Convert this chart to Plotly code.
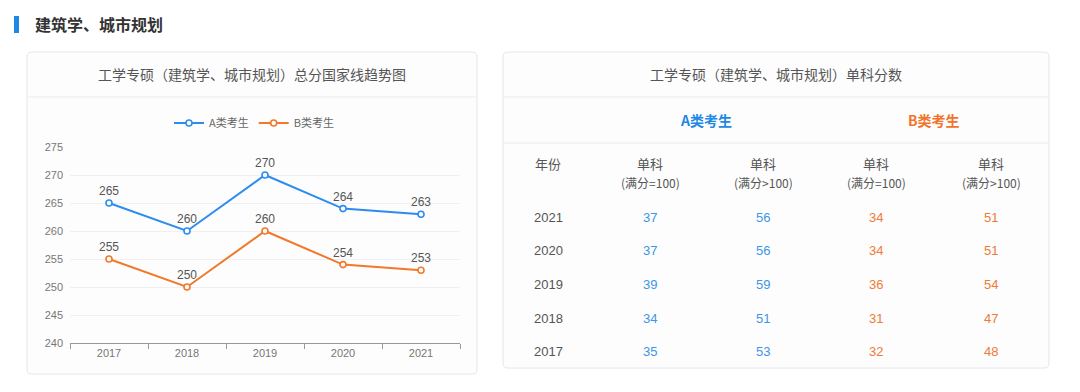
import plotly.graph_objects as go

# ---------------- data ----------------
years = ["2017", "2018", "2019", "2020", "2021"]
total_a = [265, 260, 270, 264, 263]
total_b = [255, 250, 260, 254, 253]
y_ticks = [240, 245, 250, 255, 260, 265, 270, 275]

table_years = ["2021", "2020", "2019", "2018", "2017"]
a_eq100 = [37, 37, 39, 34, 35]
a_gt100 = [56, 56, 59, 51, 53]
b_eq100 = [34, 34, 36, 31, 32]
b_gt100 = [51, 51, 54, 47, 48]
col_headers = ["单科", "单科", "单科", "单科"]
col_subheaders = ["(满分=100)", "(满分>100)", "(满分=100)", "(满分>100)"]

page_title = "建筑学、城市规划"
chart_title = "工学专硕（建筑学、城市规划）总分国家线趋势图"
table_title = "工学专硕（建筑学、城市规划）单科分数"
series_names = ["A类考生", "B类考生"]

# ---------------- style ----------------
W, H = 1080, 392
BLUE = "#2D8CF0"
ORANGE = "#F2782B"
BLUE_TXT = "#3D95E8"
ORANGE_TXT = "#F07A38"
CJK = "Noto Sans CJK SC"
LAT = "Liberation Sans, Noto Sans CJK SC, sans-serif"


def px(x):
    return x / W


def py(y):
    return 1 - y / H


def rounded_rect(x0, y0, x1, y1, r):
    pts = [
        f"M {px(x0 + r)},{py(y0)}",
        f"L {px(x1 - r)},{py(y0)}",
        f"Q {px(x1)},{py(y0)} {px(x1)},{py(y0 + r)}",
        f"L {px(x1)},{py(y1 - r)}",
        f"Q {px(x1)},{py(y1)} {px(x1 - r)},{py(y1)}",
        f"L {px(x0 + r)},{py(y1)}",
        f"Q {px(x0)},{py(y1)} {px(x0)},{py(y1 - r)}",
        f"L {px(x0)},{py(y0 + r)}",
        f"Q {px(x0)},{py(y0)} {px(x0 + r)},{py(y0)}",
        "Z",
    ]
    return " ".join(pts)


fig = go.Figure()

for name, vals, col in [(series_names[0], total_a, BLUE), (series_names[1], total_b, ORANGE)]:
    fig.add_trace(go.Scatter(
        x=years, y=vals, name=name,
        mode="lines+markers+text",
        text=[str(v) for v in vals],
        textposition="top center",
        textfont=dict(family=LAT, size=12, color="#555"),
        line=dict(color=col, width=2),
        marker=dict(symbol="circle", size=6, color="white", line=dict(color=col, width=1.6)),
        cliponaxis=False,
        hoverinfo="skip",
    ))

shapes = []
# header accent bar
shapes.append(dict(type="rect", xref="paper", yref="paper",
                   x0=px(14), x1=px(19), y0=py(33), y1=py(16),
                   fillcolor="#1E88E5", line=dict(width=0), layer="below"))
# cards
for (x0, y0, x1, y1) in [(27, 52, 477, 374), (503, 52, 1049, 368)]:
    shapes.append(dict(type="path", xref="paper", yref="paper",
                       path=rounded_rect(x0, y0, x1, y1, 5),
                       fillcolor="#FDFDFD", line=dict(color="#E6E6E6", width=1), layer="below"))
# dividers
shapes.append(dict(type="line", xref="paper", yref="paper", x0=px(28), x1=px(476), y0=py(97), y1=py(97),
                   line=dict(color="#EBEBEB", width=1), layer="below"))
shapes.append(dict(type="line", xref="paper", yref="paper", x0=px(504), x1=px(1048), y0=py(97), y1=py(97),
                   line=dict(color="#EBEBEB", width=1), layer="below"))
shapes.append(dict(type="line", xref="paper", yref="paper", x0=px(504), x1=px(1048), y0=py(143), y1=py(143),
                   line=dict(color="#EBEBEB", width=1), layer="below"))

annotations = []


def add_text(x, y, text, size=13, color="#555", family=CJK, xanchor="center", bold=False):
    annotations.append(dict(
        xref="paper", yref="paper", x=px(x), y=py(y), text=(f"<b>{text}</b>" if bold else text),
        showarrow=False, xanchor=xanchor, yanchor="middle",
        font=dict(family=family, size=size, color=color)))


add_text(33, 24, page_title, size=16, color="#333", xanchor="left", bold=True)
add_text(252, 74, chart_title, size=14, color="#555")
add_text(776, 74, table_title, size=14, color="#555")
add_text(706, 120, series_names[0], size=14, color="#1E88E5", bold=True)
add_text(934, 120, series_names[1], size=14, color="#F2732B", bold=True)

col_x = [548, 650, 763, 876, 991]
row_y = [217, 251, 284, 318, 351]
add_text(col_x[0], 163, "年份", size=13, color="#555")
for i in range(4):
    add_text(col_x[i + 1], 163, col_headers[i], size=13, color="#555")
    add_text(col_x[i + 1], 182, col_subheaders[i], size=12, color="#555")

for r, yr in enumerate(table_years):
    y = row_y[r]
    add_text(col_x[0], y, yr, size=13, color="#555", family=LAT)
    add_text(col_x[1], y, str(a_eq100[r]), size=13, color=BLUE_TXT, family=LAT)
    add_text(col_x[2], y, str(a_gt100[r]), size=13, color=BLUE_TXT, family=LAT)
    add_text(col_x[3], y, str(b_eq100[r]), size=13, color=ORANGE_TXT, family=LAT)
    add_text(col_x[4], y, str(b_gt100[r]), size=13, color=ORANGE_TXT, family=LAT)

fig.update_layout(
    width=W, height=H,
    margin=dict(l=0, r=0, t=0, b=0, pad=0, autoexpand=False),
    paper_bgcolor="white",
    plot_bgcolor="rgba(0,0,0,0)",
    shapes=shapes,
    annotations=annotations,
    showlegend=True,
    legend=dict(orientation="h", x=px(254), xanchor="center", y=py(123), yanchor="middle",
                font=dict(family=CJK, size=11, color="#666"), bgcolor="rgba(0,0,0,0)",
                itemwidth=30, traceorder="normal"),
    xaxis=dict(domain=[px(70), px(460)], type="category", range=[-0.5, 4.5],
               showgrid=False, showline=True, linecolor="#999", linewidth=1,
               ticks="outside", tickson="boundaries", ticklen=5, tickcolor="#999",
               tickfont=dict(family=LAT, size=11, color="#777"), zeroline=False, fixedrange=True),
    yaxis=dict(domain=[py(343), py(147)], range=[240, 275], tickvals=y_ticks,
               showgrid=True, gridcolor="#EEF0F3", gridwidth=1, showline=False, zeroline=False,
               ticks="", ticklabelstandoff=6,
               tickfont=dict(family=LAT, size=11, color="#777"), fixedrange=True),
)

fig.write_html("out.html", config={"displayModeBar": False},
               post_script="document.body.style.margin='0';document.body.style.overflow='hidden';")
